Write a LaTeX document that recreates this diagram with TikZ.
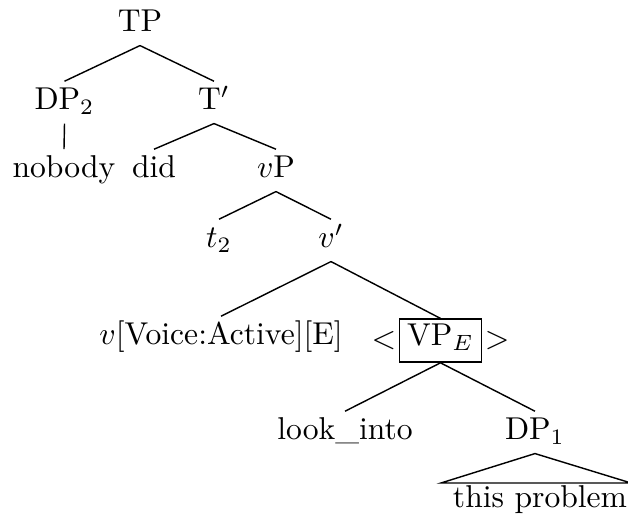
\documentclass[tikz,border=0pt]{standalone}
\usetikzlibrary{calc}
\begin{document}
\begin{tikzpicture}[x=0.3165pt,y=-0.3165pt,
  lab/.style={anchor=base,inner sep=2pt,text height=6.9pt,text depth=2.1pt},
  boxlab/.style={anchor=base,draw,inner sep=2.5pt,text height=6pt,text depth=2.6pt,line width=0.45pt},
  br/.style={inner sep=0.6pt},
  edge/.style={line width=0.45pt}]
\useasboundingbox (0,0) rectangle (628,520);
\node[lab] (TP) at (140,32) {TP};
\node[lab] (DP2) at (64.5,110) {DP$_2$};
\node[lab] (Tb) at (214,110) {T$'$};
\node[lab] (nobody) at (64,178) {nobody};
\node[lab] (did) at (154,178) {did};
\node[lab] (vP) at (276,178) {$v$P};
\node[lab] (t2) at (219,248) {$t_2$};
\node[lab] (vb) at (331,248) {$v'$};
\node[lab] (vv) at (221,345) {$v$[Voice:Active][E]};
\node[boxlab] (VP) at (440.5,346) {VP$_E$};
\node[br,anchor=east] (lt) at (VP.west) {$<$};
\node[br,anchor=west] (gt) at (VP.east) {$>$};
\node[lab] (look) at (345,440) {look\_into};
\node[lab] (DP1) at (535,440) {DP$_1$};
\node[lab] (tp) at (540,508) {this problem};
\coordinate (bl) at ($(tp.base west)+(-5,-25)$);
\coordinate (brr) at ($(tp.base east)+(-3,-25)$);
\draw[edge] (TP.south) -- (DP2.north);
\draw[edge] (TP.south) -- (Tb.north);
\draw[edge] (DP2.south) -- (nobody.north);
\draw[edge] (Tb.south) -- (did.north);
\draw[edge] (Tb.south) -- (vP.north);
\draw[edge] (vP.south) -- (t2.north);
\draw[edge] (vP.south) -- (vb.north);
\draw[edge] (vb.south) -- (vv.north);
\draw[edge] (vb.south) -- (VP.north);
\draw[edge] (VP.south) -- (look.north);
\draw[edge] (VP.south) -- (DP1.north);
\draw[edge] (DP1.south) -- (bl) -- (brr) -- cycle;
\end{tikzpicture}
\end{document}
